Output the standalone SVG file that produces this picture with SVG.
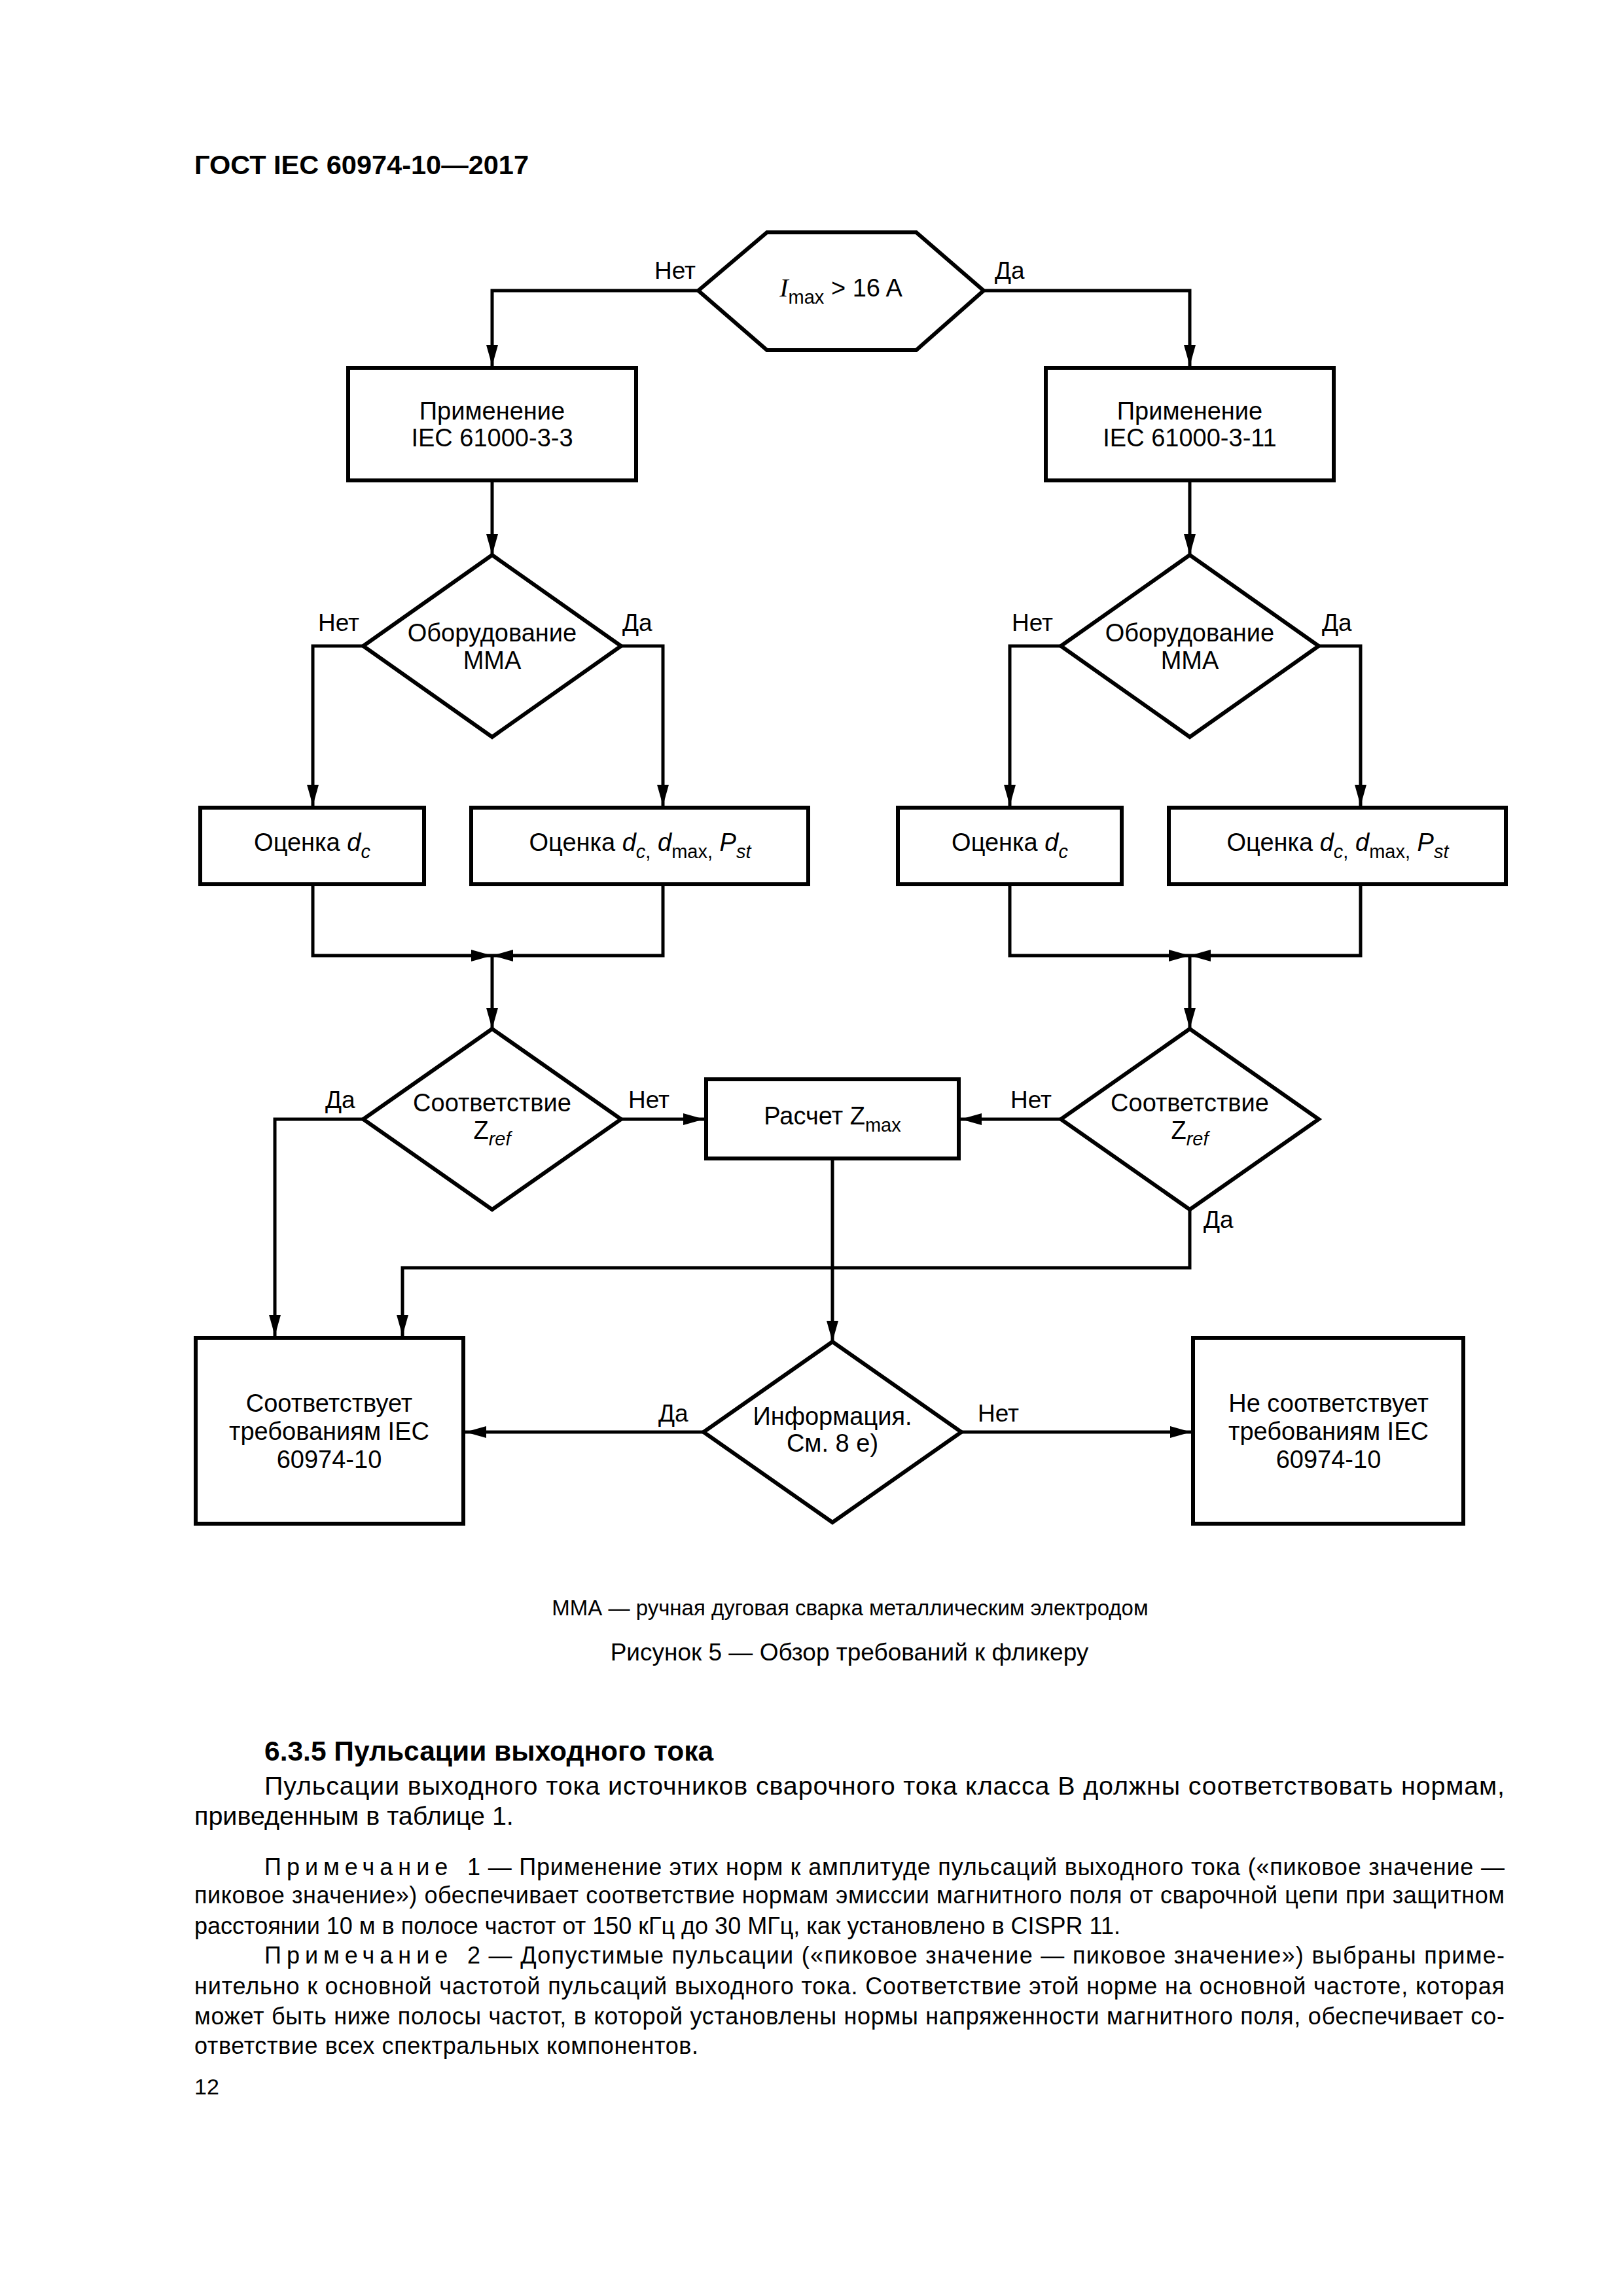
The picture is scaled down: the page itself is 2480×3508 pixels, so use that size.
<svg xmlns="http://www.w3.org/2000/svg" width="2480" height="3508" viewBox="0 0 2480 3508">
<style>
text{font-family:"Liberation Sans",Arial,sans-serif;fill:#000}
.t{font-size:38px;text-anchor:middle}
.lbl{font-size:37px}
.end{text-anchor:end}
.it{font-style:italic}
.sub{font-size:29px}
.shape{fill:#fff;stroke:#000;stroke-width:6;stroke-linejoin:miter}
.con{fill:none;stroke:#000;stroke-width:5;marker-end:url(#arr)}
.body{font-size:39.5px}
.note{font-size:36px}
.sp{letter-spacing:8px}
</style>
<defs>
<marker id="arr" markerUnits="userSpaceOnUse" markerWidth="34" markerHeight="20" refX="32" refY="9" orient="auto" viewBox="0 0 34 20">
<path d="M0,0 L32,9 L0,18 Z" fill="#000"/>
</marker>
</defs>
<rect width="2480" height="3508" fill="#fff"/>

<text x="297" y="266" font-size="41.5" font-weight="bold">ГОСТ IEC 60974-10—2017</text>

<g id="connectors">
<polyline class="con" points="1067,444 752,444 752,559"/>
<polyline class="con" points="1503,444 1818,444 1818,559"/>
<polyline class="con" points="752,734 752,848"/>
<polyline class="con" points="1818,734 1818,848"/>
<polyline class="con" points="555,987 478,987 478,1231"/>
<polyline class="con" points="949,987 1013,987 1013,1231"/>
<polyline class="con" points="1621,987 1543,987 1543,1231"/>
<polyline class="con" points="2015,987 2079,987 2079,1231"/>
<polyline class="con" points="478,1351 478,1460 752,1460"/>
<polyline class="con" points="1013,1351 1013,1460 752,1460"/>
<polyline class="con" points="752,1460 752,1572"/>
<polyline class="con" points="1543,1351 1543,1460 1818,1460"/>
<polyline class="con" points="2079,1351 2079,1460 1818,1460"/>
<polyline class="con" points="1818,1460 1818,1572"/>
<polyline class="con" points="555,1710 420,1710 420,2041"/>
<polyline class="con" points="949,1710 1076,1710"/>
<polyline class="con" points="1621,1710 1468,1710"/>
<polyline class="con" points="1818,1848 1818,1937 615,1937 615,2041"/>
<polyline class="con" points="1272,1770 1272,2050"/>
<polyline class="con" points="1075,2188 711,2188"/>
<polyline class="con" points="1469,2188 1820,2188"/>
</g>

<g id="n-imax">
<polygon class="shape" points="1067,444 1172,355 1400,355 1503,444 1400,535 1172,535"/>
<text class="t" x="1285" y="453"><tspan font-family="Liberation Serif" font-style="italic" font-size="40">I</tspan><tspan class="sub" dy="11">max</tspan><tspan dy="-11"> &gt; 16 A</tspan></text>
<text class="lbl end" x="1063" y="426">Нет</text>
<text class="lbl" x="1520" y="426">Да</text>
</g>

<g id="n-apply-3-3">
<rect class="shape" x="532" y="562" width="440" height="172"/>
<text class="t" x="752" y="641">Применение</text>
<text class="t" x="752" y="682">IEC 61000-3-3</text>
</g>

<g id="n-apply-3-11">
<rect class="shape" x="1598" y="562" width="440" height="172"/>
<text class="t" x="1818" y="641">Применение</text>
<text class="t" x="1818" y="682">IEC 61000-3-11</text>
</g>

<g id="n-mma-left">
<polygon class="shape" points="752,848 949,987 752,1126 555,987"/>
<text class="t" x="752" y="980">Оборудование</text>
<text class="t" x="752" y="1022">ММА</text>
<text class="lbl end" x="549" y="964">Нет</text>
<text class="lbl" x="951" y="964">Да</text>
</g>

<g id="n-mma-right">
<polygon class="shape" points="1818,848 2015,987 1818,1126 1621,987"/>
<text class="t" x="1818" y="980">Оборудование</text>
<text class="t" x="1818" y="1022">ММА</text>
<text class="lbl end" x="1609" y="964">Нет</text>
<text class="lbl" x="2020" y="964">Да</text>
</g>

<g id="n-dc-left">
<rect class="shape" x="306" y="1234" width="342" height="117"/>
<text class="t" x="477" y="1300">Оценка <tspan class="it">d</tspan><tspan class="sub it" dy="11">c</tspan></text>
</g>

<g id="n-dcmax-left">
<rect class="shape" x="720" y="1234" width="515" height="117"/>
<text class="t" x="978" y="1300">Оценка <tspan class="it">d</tspan><tspan class="sub" dy="11"><tspan class="it">c</tspan>,</tspan><tspan dy="-11"> </tspan><tspan class="it">d</tspan><tspan class="sub" dy="11">max,</tspan><tspan dy="-11"> </tspan><tspan class="it">P</tspan><tspan class="sub it" dy="11">st</tspan></text>
</g>

<g id="n-dc-right">
<rect class="shape" x="1372" y="1234" width="342" height="117"/>
<text class="t" x="1543" y="1300">Оценка <tspan class="it">d</tspan><tspan class="sub it" dy="11">c</tspan></text>
</g>

<g id="n-dcmax-right">
<rect class="shape" x="1786" y="1234" width="515" height="117"/>
<text class="t" x="2044" y="1300">Оценка <tspan class="it">d</tspan><tspan class="sub" dy="11"><tspan class="it">c</tspan>,</tspan><tspan dy="-11"> </tspan><tspan class="it">d</tspan><tspan class="sub" dy="11">max,</tspan><tspan dy="-11"> </tspan><tspan class="it">P</tspan><tspan class="sub it" dy="11">st</tspan></text>
</g>

<g id="n-zref-left">
<polygon class="shape" points="752,1572 949,1710 752,1848 555,1710"/>
<text class="t" x="752" y="1698">Соответствие</text>
<text class="t" x="752" y="1740">Z<tspan class="sub it" dy="10">ref</tspan></text>
<text class="lbl" x="497" y="1693">Да</text>
<text class="lbl" x="960" y="1693">Нет</text>
</g>

<g id="n-zmax">
<rect class="shape" x="1079" y="1649" width="386" height="121"/>
<text class="t" x="1272" y="1718">Расчет Z<tspan class="sub" dy="11">max</tspan></text>
</g>

<g id="n-zref-right">
<polygon class="shape" points="1818,1572 2015,1710 1818,1848 1621,1710"/>
<text class="t" x="1818" y="1698">Соответствие</text>
<text class="t" x="1818" y="1740">Z<tspan class="sub it" dy="10">ref</tspan></text>
<text class="lbl end" x="1607" y="1693">Нет</text>
<text class="lbl" x="1839" y="1876">Да</text>
</g>

<g id="n-info">
<polygon class="shape" points="1272,2050 1469,2188 1272,2326 1075,2188"/>
<text class="t" x="1272" y="2177">Информация.</text>
<text class="t" x="1272" y="2218">См. 8 е)</text>
<text class="lbl" x="1006" y="2172">Да</text>
<text class="lbl" x="1494" y="2172">Нет</text>
</g>

<g id="n-complies">
<rect class="shape" x="299" y="2044" width="409" height="284"/>
<text class="t" x="503" y="2157">Соответствует</text>
<text class="t" x="503" y="2200">требованиям IEC</text>
<text class="t" x="503" y="2243">60974-10</text>
</g>

<g id="n-not-complies">
<rect class="shape" x="1823" y="2044" width="413" height="284"/>
<text class="t" x="2030" y="2157">Не соответствует</text>
<text class="t" x="2030" y="2200">требованиям IEC</text>
<text class="t" x="2030" y="2243">60974-10</text>
</g>

<text x="1299" y="2468" font-size="33" text-anchor="middle">ММА — ручная дуговая сварка металлическим электродом</text>
<text x="1298" y="2537" font-size="37" text-anchor="middle">Рисунок 5 — Обзор требований к фликеру</text>

<text x="404" y="2690" font-size="42.5" font-weight="bold">6.3.5 Пульсации выходного тока</text>
<text class="body" x="404" y="2742" textLength="1895" lengthAdjust="spacing">Пульсации выходного тока источников сварочного тока класса В должны соответствовать нормам,</text>
<text class="body" x="297" y="2788">приведенным в таблице 1.</text>

<text class="note sp" x="404" y="2865">Примечание</text>
<text class="note" x="714" y="2865" textLength="1585" lengthAdjust="spacing">1 — Применение этих норм к амплитуде пульсаций выходного тока («пиковое значение —</text>
<text class="note" x="297" y="2908" textLength="2002" lengthAdjust="spacing">пиковое значение») обеспечивает соответствие нормам эмиссии магнитного поля от сварочной цепи при защитном</text>
<text class="note" x="297" y="2955">расстоянии 10 м в полосе частот от 150 кГц до 30 МГц, как установлено в CISPR 11.</text>
<text class="note sp" x="404" y="3000">Примечание</text>
<text class="note" x="714" y="3000" textLength="1585" lengthAdjust="spacing">2 — Допустимые пульсации («пиковое значение — пиковое значение») выбраны приме-</text>
<text class="note" x="297" y="3047" textLength="2002" lengthAdjust="spacing">нительно к основной частотой пульсаций выходного тока. Соответствие этой норме на основной частоте, которая</text>
<text class="note" x="297" y="3093" textLength="2002" lengthAdjust="spacing">может быть ниже полосы частот, в которой установлены нормы напряженности магнитного поля, обеспечивает со-</text>
<text class="note" x="297" y="3138" textLength="770" lengthAdjust="spacing">ответствие всех спектральных компонентов.</text>

<text x="297" y="3200" font-size="34">12</text>
</svg>
